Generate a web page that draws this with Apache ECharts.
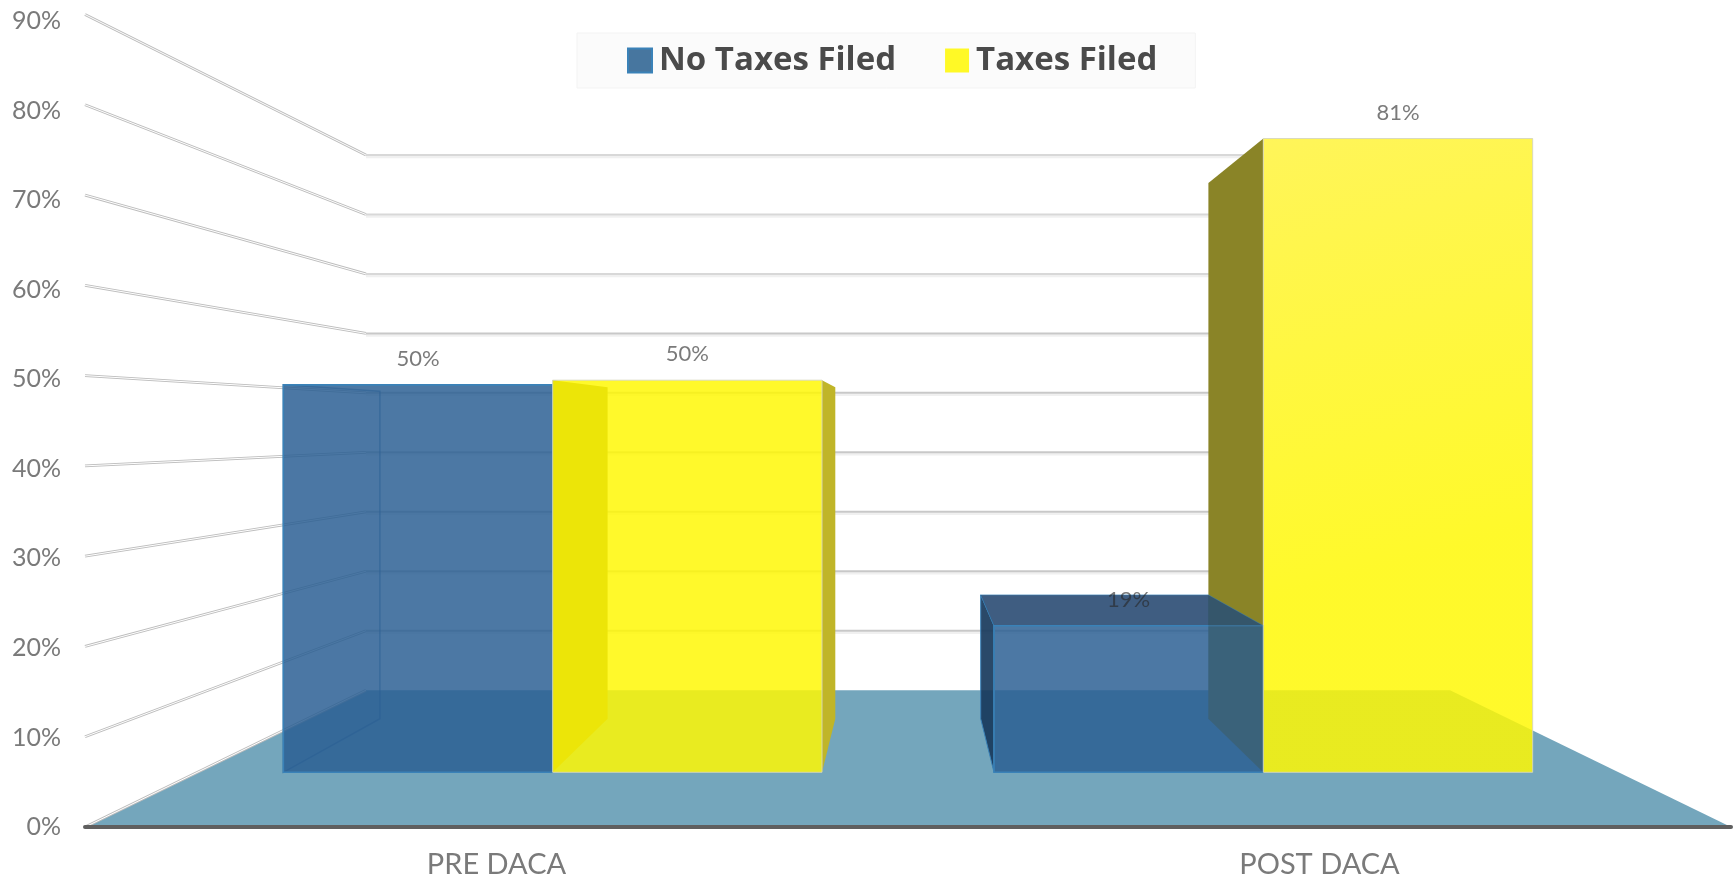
<!DOCTYPE html>
<html>
<head>
<meta charset="utf-8">
<style>
html,body{margin:0;padding:0;background:#fff}
#main{width:1734px;height:880px;filter:blur(0.7px)}
</style>
<script src="https://cdn.jsdelivr.net/npm/echarts@6/dist/echarts.min.js"></script>
</head>
<body>
<div id="main"></div>
<script>
const categories = ['PRE DACA', 'POST DACA'];
const noTaxesFiled = [49.7, 18.8];
const taxesFiled = [50.3, 81.3];
const wallTicks = [0, 10, 20, 30, 40, 50, 60, 70, 80, 90];

const S_BACK = 0.6586, S_BAR_FRONT = 0.8635, S_BAR_BACK = 0.73, VANISH = 44.4, BAR_SHARE = 0.379;

function frame(api) {
  const band = api.size([1, 0])[0];
  const c0 = api.coord([0, 0]);
  const left = c0[0] - band / 2;
  const vp = [left + band, api.coord([0, VANISH])[1]];
  const proj = (x, y, s) => [vp[0] + (x - vp[0]) * s, vp[1] + (y - vp[1]) * s];
  return {band, left, right: left + 2 * band, y0: c0[1], vp, proj};
}
const poly = (points, style, z2) => ({type: 'polygon', shape: {points}, style, z2, silent: true});
const pline = (points, stroke, lineWidth, z2) => ({type: 'polyline', shape: {points}, style: {stroke, lineWidth, fill: null}, z2, silent: true});

function renderFloor(params, api) {
  const f = frame(api);
  return poly([
    [f.left, f.y0], [f.right, f.y0],
    f.proj(f.right, f.y0, S_BACK), f.proj(f.left, f.y0, S_BACK)
  ], {fill: '#74a6bc'}, 1);
}
function renderWall(params, api) {
  const f = frame(api);
  const y = api.coord([0, api.value(1)])[1];
  const a = [f.left, y], b = f.proj(f.left, y, S_BACK);
  const endX = f.proj(api.coord([categories.length - 1, 0])[0], y, S_BAR_FRONT)[0];
  const c = [endX, b[1]];
  const kids = [pline([a, b], '#bdbdbd', 2.8, 2), pline([a, b], '#ffffff', 1, 3)];
  if (api.value(1) > 0) {
    kids.push(pline([[b[0], b[1] + 2], [c[0], c[1] + 2]], '#f0f0f0', 2.5, 2));
    kids.push(pline([b, c], api.value(1) >= 70 ? '#d8d8d8' : '#c8c8c8', 2, 3));
  }
  return {type: 'group', children: kids};
}
function box(f, api, offset) {
  const cx = api.coord([api.value(0), 0])[0];
  const top = api.coord([0, api.value(1)])[1];
  const w = f.band * BAR_SHARE;
  const x0 = cx + offset * w, x1 = x0 + w;
  return {x0, x1, top, bottom: f.y0,
    fl: [f.proj(x0, top, S_BAR_FRONT), f.proj(x1, top, S_BAR_FRONT), f.proj(x1, f.y0, S_BAR_FRONT), f.proj(x0, f.y0, S_BAR_FRONT)],
    bk: [f.proj(x0, top, S_BAR_BACK), f.proj(x1, top, S_BAR_BACK), f.proj(x1, f.y0, S_BAR_BACK), f.proj(x0, f.y0, S_BAR_BACK)]};
}
function valueLabel(b, api, z2) {
  const p0 = b.fl[0], p1 = b.fl[1];
  return {type: 'text', silent: true, z2, style: {
    x: (p0[0] + p1[0]) / 2, y: p0[1] - 26, text: Math.round(api.value(1)) + '%',
    fill: 'rgba(40,40,40,0.62)', font: '22px Lato', textAlign: 'center', textVerticalAlign: 'middle'
  }};
}
function renderBlue(params, api) {
  const f = frame(api), b = box(f, api, -1);
  const kids = [];
  const leftFace = [b.bk[0], b.fl[0], b.fl[3], b.bk[3]];
  const rightFace = [b.fl[1], b.bk[1], b.bk[2], b.fl[2]];
  const outerLeft = b.x0 > f.vp[0];
  kids.push(poly(leftFace, outerLeft ? {fill: 'rgba(24,58,92,0.92)', stroke: '#3a82b8', lineWidth: 1}
    : {fill: 'rgba(42,94,146,0.04)', stroke: 'rgba(42,94,146,0.55)', lineWidth: 1.5}, outerLeft ? 40 : 45));
  if (b.top > f.vp[1]) {
    kids.push(poly([b.bk[0], b.bk[1], b.fl[1], b.fl[0]], {fill: 'rgba(32,66,108,0.86)', stroke: 'rgba(58,130,184,0.6)', lineWidth: 1}, 41));
  }
  kids.push(poly(b.fl, {fill: 'rgba(42,94,146,0.84)', stroke: '#3a82b8', lineWidth: 1.6}, 50));
  if (b.x1 > f.vp[0]) {
    kids.push(poly(rightFace, {fill: 'rgba(60,95,115,0.5)'}, 52));
  }
  kids.push(valueLabel(b, api, 90));
  return {type: 'group', children: kids};
}
function renderYellow(params, api) {
  const f = frame(api), b = box(f, api, 0);
  const kids = [];
  const leftFace = [b.bk[0], b.fl[0], b.fl[3], b.bk[3]];
  const rightFace = [b.fl[1], b.bk[1], b.bk[2], b.fl[2]];
  kids.push(poly(leftFace, {fill: '#8a8427'}, 20));
  if (b.x1 < f.vp[0]) {
    kids.push(poly(rightFace, {fill: '#c0b528'}, 20));
  }
  const saturated = 'rgba(255,248,2,0.84)';
  const tall = api.value(1) > 60;
  const fill = tall ? new echarts.graphic.LinearGradient(b.fl[0][0], b.fl[0][1], b.fl[0][0] + 120, b.fl[0][1] + 430, [
    {offset: 0, color: 'rgba(255,244,76,0.92)'},
    {offset: 1, color: saturated}
  ], true) : saturated;
  kids.push(poly(b.fl, {fill, stroke: 'rgba(214,214,190,0.9)', lineWidth: 1}, 60));
  kids.push(valueLabel(b, api, 90));
  return {type: 'group', children: kids};
}

const chart = echarts.init(document.getElementById('main'), null, {renderer: 'canvas'});
const labelStyle = {color: '#7a7a7a', fontFamily: 'Lato', fontSize: 25};
chart.setOption({
  animation: false,
  backgroundColor: '#fff',
  grid: [
    {left: 85, right: 3, top: 14.5, bottom: 53, containLabel: false},
    {left: 85, right: 3, top: 21, bottom: 53, containLabel: false}
  ],
  legend: {
    left: 577, top: 33, padding: [11, 38, 11, 50],
    backgroundColor: '#fbfbfb', borderColor: '#f3f3f3', borderWidth: 1,
    data: ['No Taxes Filed', 'Taxes Filed'],
    icon: 'rect', itemWidth: 24, itemHeight: 24, itemGap: 49, selectedMode: false,
    textStyle: {fontFamily: 'Open Sans', fontWeight: 'bold', fontSize: 33, color: '#4a4a4a', padding: [0, 0, 0, 2]}
  },
  xAxis: [
    {type: 'category', gridIndex: 0, data: categories, boundaryGap: true,
      axisTick: {show: false},
      axisLine: {lineStyle: {color: '#5f5f5f', width: 4}},
      axisLabel: {...labelStyle, fontSize: 29, margin: 23}, z: 30},
    {type: 'category', gridIndex: 1, data: categories, show: false}
  ],
  yAxis: [
    {type: 'value', gridIndex: 0, min: 0, max: 90, interval: 10, show: false},
    {type: 'value', gridIndex: 1, min: 0, max: 90, interval: 10,
      axisLine: {show: false}, axisTick: {show: false}, splitLine: {show: false},
      axisLabel: {...labelStyle, margin: 24, formatter: '{value}%'}}
  ],
  series: [
    {type: 'custom', name: 'floor', xAxisIndex: 0, yAxisIndex: 0, z: 2, clip: false, silent: true,
      data: [[0, 0]], renderItem: renderFloor},
    {type: 'custom', name: 'walls', xAxisIndex: 0, yAxisIndex: 0, z: 2, clip: false, silent: true,
      data: wallTicks.map(t => [0, t]), renderItem: renderWall},
    {type: 'custom', name: 'No Taxes Filed', xAxisIndex: 0, yAxisIndex: 0, z: 2, clip: false, silent: true,
      itemStyle: {color: '#47769f', borderColor: '#3a82b8', borderWidth: 1},
      encode: {x: 0, y: 1},
      data: noTaxesFiled.map((v, i) => [i, v]), renderItem: renderBlue},
    {type: 'custom', name: 'Taxes Filed', xAxisIndex: 0, yAxisIndex: 0, z: 2, clip: false, silent: true,
      itemStyle: {color: '#fff926'},
      encode: {x: 0, y: 1},
      data: taxesFiled.map((v, i) => [i, v]), renderItem: renderYellow}
  ]
});
</script>
</body>
</html>
